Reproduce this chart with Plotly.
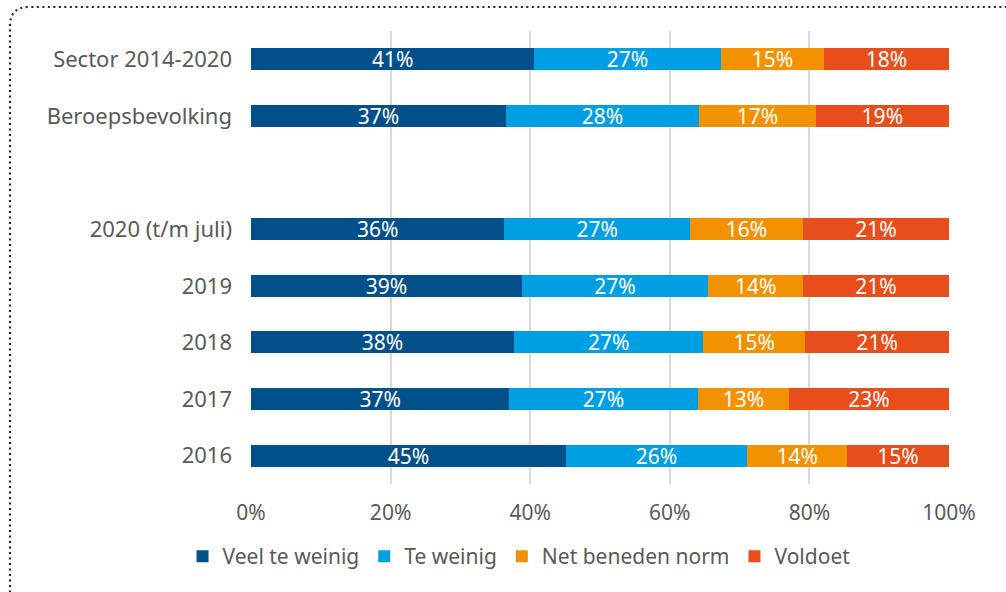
import plotly.graph_objects as go

categories = ["Sector 2014-2020", "Beroepsbevolking", "2020 (t/m juli)", "2019", "2018", "2017", "2016"]
spacer = " "
series_names = ["Veel te weinig", "Te weinig", "Net beneden norm", "Voldoet"]
veel_te_weinig = [40.6, 36.5, 36.3, 38.8, 37.7, 37.0, 45.1]
te_weinig = [26.7, 27.7, 26.6, 26.7, 27.1, 27.0, 26.0]
net_beneden_norm = [14.8, 16.7, 16.2, 13.6, 14.6, 13.1, 14.3]
voldoet = [17.9, 19.1, 20.9, 20.9, 20.6, 22.9, 14.6]
colors = ["#02508A", "#009FE3", "#F39200", "#E84E1C"]
x_ticks = [0, 20, 40, 60, 80, 100]
x_tick_labels = ["0%", "20%", "40%", "60%", "80%", "100%"]

W, H = 1006, 592
L, R, T, B = 251, 57, 31, 108
font_family = "Noto Sans, Open Sans, sans-serif"

fig = go.Figure()
for name, vals, col in zip(series_names, [veel_te_weinig, te_weinig, net_beneden_norm, voldoet], colors):
    fig.add_trace(go.Bar(
        y=categories, x=vals, name=name, orientation="h",
        marker=dict(color=col, line=dict(width=0)),
        texttemplate="%{x:.0f}%", textposition="inside", insidetextanchor="middle",
        textangle=0, textfont=dict(color="white", size=21, family=font_family),
        hoverinfo="skip",
    ))

cat_order = categories[:2] + [spacer] + categories[2:]

# dotted rounded border (pixel coordinates -> paper coordinates)
pw, ph = W - L - R, H - T - B
def px(x):
    return (x - L) / pw
def py(y):
    return (H - B - y) / ph
path = (f"M {px(10)} {py(620)} L {px(10)} {py(26)} "
        f"Q {px(10)} {py(7)} {px(29)} {py(7)} L {px(1030)} {py(7)}")

fig.update_layout(
    barmode="stack",
    width=W, height=H,
    margin=dict(l=L, r=R, t=T, b=B),
    paper_bgcolor="white", plot_bgcolor="white",
    bargap=0.61,
    uniformtext=dict(minsize=21, mode="show"),
    font=dict(family=font_family, color="#595959", size=22),
    xaxis=dict(range=[0, 100], tickvals=x_ticks, ticktext=x_tick_labels,
               showgrid=True, gridcolor="#D9D9D9", gridwidth=1.5,
               zeroline=False, showline=False, ticks="", ticklabelstandoff=14,
               tickfont=dict(size=21, color="#595959"), fixedrange=True),
    yaxis=dict(categoryorder="array", categoryarray=cat_order, autorange="reversed",
               range=[len(cat_order) - 0.5, -0.5],
               showgrid=False, zeroline=False, showline=False, ticks="",
               ticklabelstandoff=18, tickfont=dict(size=22, color="#595959")),
    legend=dict(orientation="h", x=0.384, xanchor="center", y=-0.16, yanchor="middle",
                font=dict(size=21, color="#595959"), traceorder="normal",
                itemwidth=30, bgcolor="rgba(0,0,0,0)"),
    shapes=[dict(type="path", path=path, xref="paper", yref="paper",
                 line=dict(color="#222222", width=2.2, dash="2px,3.5px"), layer="above")],
    showlegend=True,
)

fig.write_html("out.html", config={"displayModeBar": False},
               post_script="document.body.style.margin='0px';")
